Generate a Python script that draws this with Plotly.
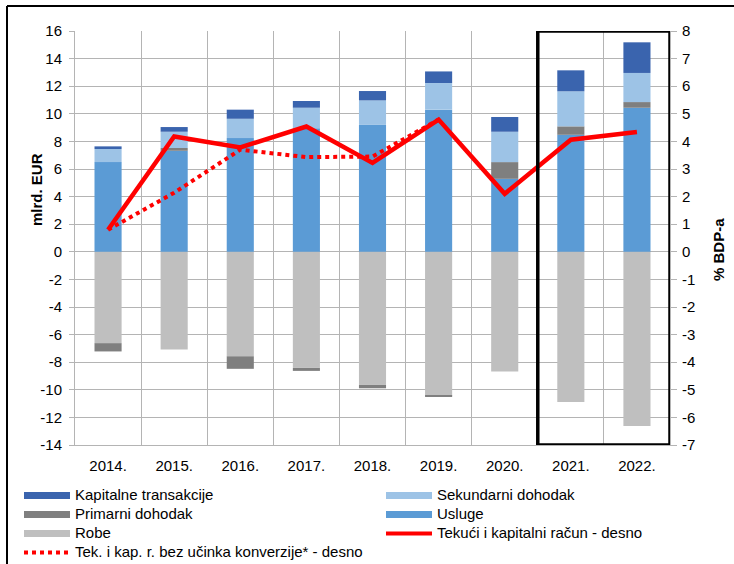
import plotly.graph_objects as go

years = ['2014.', '2015.', '2016.', '2017.', '2018.', '2019.', '2020.', '2021.', '2022.']
robe = [-6.62, -7.08, -7.57, -8.41, -9.64, -10.42, -8.68, -10.88, -12.62]
usluge = [6.50, 7.32, 8.24, 8.95, 9.23, 10.30, 5.29, 8.48, 10.44]
primarni = [-0.60, 0.20, -0.91, -0.22, -0.25, -0.07, 1.21, 0.61, 0.41]
sekundarni = [0.95, 1.18, 1.40, 1.49, 1.74, 1.93, 2.20, 2.54, 2.11]
kapitalne = [0.19, 0.34, 0.66, 0.49, 0.68, 0.84, 1.07, 1.52, 2.22]
tekuci = [0.80, 4.18, 3.78, 4.54, 3.22, 4.79, 2.10, 4.06, 4.34]
bez_konverzije = [0.80, 2.14, 3.70, 3.43, 3.45, 4.79, None, None, None]

left_ticks = [-14, -12, -10, -8, -6, -4, -2, 0, 2, 4, 6, 8, 10, 12, 14, 16]
left_labels = ['-14', '-12', '-10', '-8', '-6', '-4', '-2', '0', '2', '4', '6', '8', '10', '12', '14', '16']
right_ticks = [-7, -6, -5, -4, -3, -2, -1, 0, 1, 2, 3, 4, 5, 6, 7, 8]
right_labels = ['-7', '-6', '-5', '-4', '-3', '-2', '-1', '0', '1', '2', '3', '4', '5', '6', '7', '8']

C_KAP = '#3a64ae'
C_SEK = '#9dc3e6'
C_PRI = '#7f7f7f'
C_USL = '#5b9bd5'
C_ROB = '#bfbfbf'
C_RED = '#ff0000'
GRID = '#b4b4b4'
FONT = 'Liberation Sans, Arial, sans-serif'

fig = go.Figure()

bar_series = [
    ('Robe', robe, C_ROB),
    ('Usluge', usluge, C_USL),
    ('Primarni dohodak', primarni, C_PRI),
    ('Sekundarni dohodak', sekundarni, C_SEK),
    ('Kapitalne transakcije', kapitalne, C_KAP),
]
for name, vals, col in bar_series:
    fig.add_trace(go.Bar(x=years, y=vals, name=name, marker=dict(color=col, line=dict(width=0)),
                         width=0.41, showlegend=False, yaxis='y'))

fig.add_trace(go.Scatter(x=years, y=bez_konverzije, mode='lines', yaxis='y2', showlegend=False,
                         line=dict(color=C_RED, width=4, dash='dot')))
fig.add_trace(go.Scatter(x=years, y=tekuci, mode='lines', yaxis='y2', showlegend=False,
                         line=dict(color=C_RED, width=4.5)))

# legend entries: (name, colour, width, dash, legend id)
legend_items = [
    ('Kapitalne transakcije', C_KAP, 7, 'solid', 'legend'),
    ('Primarni dohodak', C_PRI, 7, 'solid', 'legend'),
    ('Robe', C_ROB, 7, 'solid', 'legend'),
    ('Tek. i kap. r. bez učinka konverzije* - desno', C_RED, 4, 'dot', 'legend'),
    ('Sekundarni dohodak', C_SEK, 7, 'solid', 'legend2'),
    ('Usluge', C_USL, 7, 'solid', 'legend2'),
    ('Tekući i kapitalni račun - desno', C_RED, 4, 'solid', 'legend2'),
]
for i, (name, col, w, dash, lg) in enumerate(legend_items):
    fig.add_trace(go.Scatter(x=[None], y=[None], mode='lines',
                             name='<span style="font-size:15px">' + name + '</span>',
                             legend=lg, legendrank=i + 1,
                             line=dict(color=col, width=w, dash=dash), yaxis='y'))

L, R, T, B = 75, 64, 31, 119
PW = 734 - L - R
PH = 564 - T - B

def px_x(p):
    return (p - L) / PW

def px_y(p):
    return (564 - B - p) / PH

legend_common = dict(orientation='v', xanchor='left', yanchor='top', itemwidth=46,
                     traceorder='normal', font=dict(size=12), bgcolor='rgba(0,0,0,0)',
                     tracegroupgap=0)

fig.update_layout(
    width=734, height=564,
    margin=dict(l=L, r=R, t=T, b=B, autoexpand=False),
    paper_bgcolor='white', plot_bgcolor='white',
    barmode='relative',
    font=dict(family=FONT, size=15, color='#000000'),
    xaxis=dict(type='category', tickson='boundaries', showgrid=True, gridcolor=GRID, gridwidth=1,
               showline=True, linecolor=GRID, ticks='', tickfont=dict(size=15), range=[-0.5, 8.5],
               ticklabelstandoff=7),
    yaxis=dict(range=[-14, 16], tickvals=left_ticks, ticktext=left_labels, showgrid=True,
               gridcolor=GRID, gridwidth=1, zeroline=False, showline=True, linecolor=GRID,
               ticks='outside', ticklen=5, tickcolor=GRID, tickfont=dict(size=15),
               ticklabelstandoff=4),
    yaxis2=dict(range=[-7, 8], tickvals=right_ticks, ticktext=right_labels, overlaying='y',
                side='right', showgrid=False, zeroline=False, showline=True, linecolor=GRID,
                ticks='outside', ticklen=6, tickcolor=GRID, tickfont=dict(size=15),
                ticklabelstandoff=2),
    legend=dict(x=px_x(19), y=px_y(481), **legend_common),
    legend2=dict(x=px_x(381), y=px_y(481), **legend_common),
    annotations=[
        dict(text='<b>mlrd. EUR</b>', xref='paper', yref='paper', x=px_x(36), y=px_y(190),
             xanchor='center', yanchor='middle', textangle=-90, showarrow=False, font=dict(size=15)),
        dict(text='<b>% BDP-a</b>', xref='paper', yref='paper', x=px_x(718), y=px_y(250),
             xanchor='center', yanchor='middle', textangle=-90, showarrow=False, font=dict(size=15)),
    ],
    shapes=[
        dict(type='rect', xref='x', yref='y', x0=6.5, x1=8.5, y0=-14, y1=16,
             line=dict(color='black', width=3.5), fillcolor='rgba(0,0,0,0)', layer='above'),
        dict(type='line', xref='paper', yref='paper', x0=px_x(7), x1=px_x(740), y0=px_y(6), y1=px_y(6),
             line=dict(color='black', width=2)),
        dict(type='line', xref='paper', yref='paper', x0=px_x(7), x1=px_x(7), y0=px_y(6), y1=px_y(570),
             line=dict(color='black', width=2)),
    ],
)

fig.write_html('out.html', config={'displayModeBar': False},
               post_script="document.body.style.margin='0';document.body.style.padding='0';")
